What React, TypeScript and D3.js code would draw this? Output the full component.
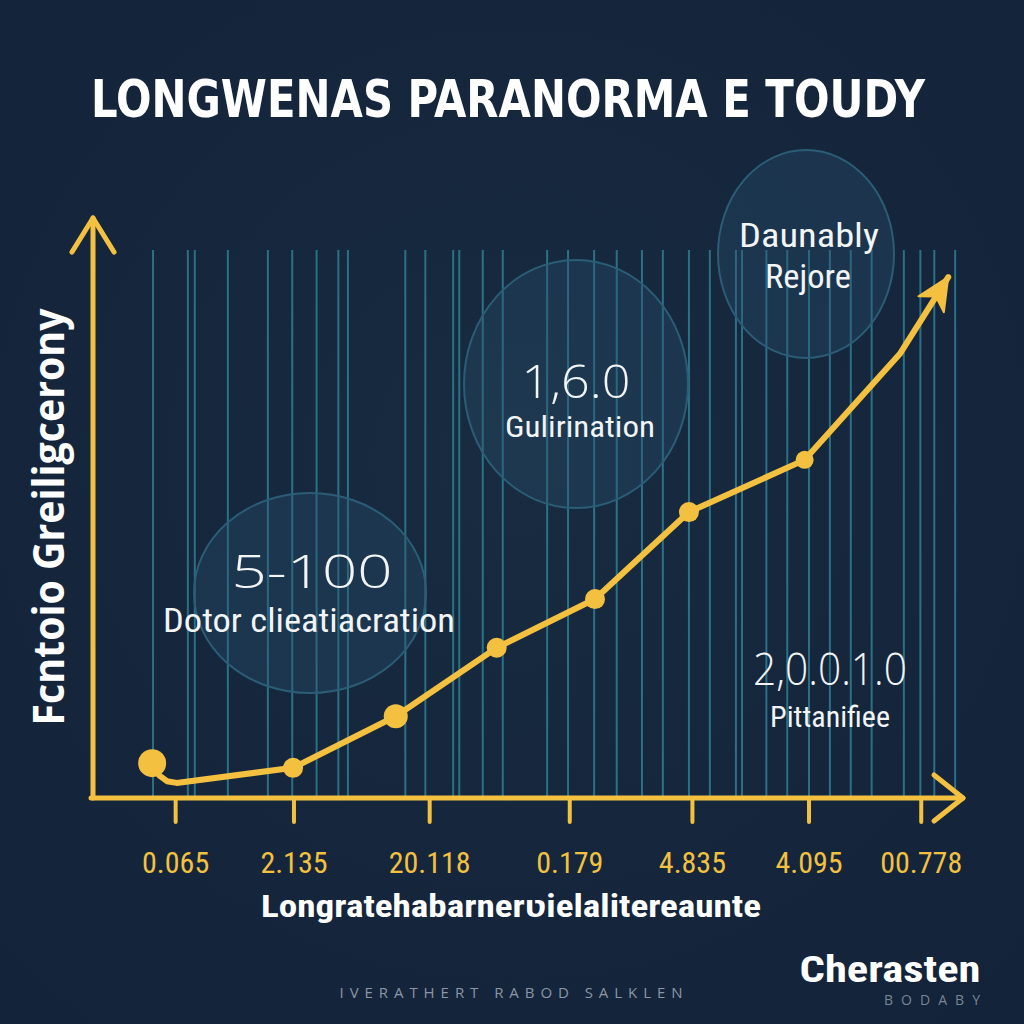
import React from 'react';
import * as d3 from 'd3';

const TITLE = 'LONGWENAS PARANORMA E TOUDY';
const Y_LABEL = 'Fcntoio Greiligcerony';
const X_LABEL = 'Longratehabarnerʋielalitereaunte';
const FOOTER = 'IVERATHERT RABOD SALKLEN';
const BRAND = 'Cherasten';
const BRAND_SUB = 'BODABY';

// x-axis ticks (data units) and their labels
const tickPositions = [9.5, 23.1, 38.7, 54.8, 68.9, 82.3, 95.2];
const tickLabels = ['0.065', '2.135', '20.118', '0.179', '4.835', '4.095', '00.778'];

// series (data units); marker indices show which points carry dots
const seriesX = [6.8, 7.6, 8.5, 9.6, 23.0, 34.8, 46.4, 57.7, 68.5, 81.8, 92.8];
const seriesY = [6.0, 3.9, 2.9, 2.6, 5.2, 14.1, 25.9, 34.3, 49.3, 58.3, 76.7];
const markerIdx = [0, 4, 5, 6, 7, 8, 9];
const arrowTipX = 98.3;
const arrowTipY = 89.8;

// vertical grid lines (data units)
const gridX = [
  6.9, 10.9, 11.7, 15.5, 20.1, 22.9, 25.7, 28.2, 29.3, 35.9, 38.2, 41.4, 42.1, 44.8, 47.1,
  52.2, 54.6, 57.6, 60.2, 63.1, 65.5, 68.5, 70.9, 73.9, 74.6, 77.4, 79.8, 82.3, 84.7, 87.1,
  89.5, 93.2, 95.1, 96.7, 99.1,
];
const gridTop = 94.5;

// annotation texts
const annValues = ['5-100', '1,6.0', 'Daunably', '2,0.0.1.0'];
const annLabels = ['Dotor clieatiacration', 'Gulirination', 'Rejore', 'Pittanifiee'];

// styles / layout
const DOT_R = [14, 10, 12, 10, 10, 10, 9];
const YELLOW = '#f3c13f';
const GRID = '#2d7a8e';
const NARROW = '"Liberation Sans Narrow", "Roboto Condensed", Roboto, "Liberation Sans", sans-serif';
const ROUND = '"Open Sans", "Noto Sans", Roboto, sans-serif';

export default function App() {
  const W = 1024;
  const H = 1024;
  const x = d3.scaleLinear().domain([0, 100]).range([93, 963]);
  const y = d3.scaleLinear().domain([0, 100]).range([798, 218]);

  const pts: [number, number][] = seriesX.map((v, i) => [x(v), y(seriesY[i])]);
  const line = d3.line().curve(d3.curveLinear);
  const tip: [number, number] = [x(arrowTipX), y(arrowTipY)];
  const last = pts[pts.length - 1];
  const linePath = line([...pts, tip]) as string;

  // arrowhead geometry
  const dx = tip[0] - last[0];
  const dy = tip[1] - last[1];
  const len = Math.hypot(dx, dy);
  const ux = dx / len;
  const uy = dy / len;
  const px = -uy;
  const py = ux;
  const back = 32;
  const half = 15;
  const bx = tip[0] - ux * back;
  const by = tip[1] - uy * back;
  const notchX = tip[0] - ux * (back - 9);
  const notchY = tip[1] - uy * (back - 9);
  const arrowHead = `M${tip[0]},${tip[1]} L${bx + px * half},${by + py * half} L${notchX},${notchY} L${bx - px * half},${by - py * half} Z`;

  const axisY0 = y(0);
  const axisX0 = x(0);

  return (
    <svg
      width={W}
      height={H}
      viewBox={`0 0 ${W} ${H}`}
      style={{ position: 'absolute', left: 0, top: 0, display: 'block' }}
    >
      <defs>
        <radialGradient id="bg" cx="50%" cy="45%" r="70%">
          <stop offset="0%" stopColor="#182b40" />
          <stop offset="100%" stopColor="#13233a" />
        </radialGradient>
      </defs>
      <rect x={0} y={0} width={W} height={H} fill="url(#bg)" />

      {/* title */}
      <text
        x={508}
        y={117}
        textAnchor="middle"
        fill="#ffffff"
        fontFamily='"DejaVu Sans Condensed", "DejaVu Sans", Lato, sans-serif'
        fontWeight={700}
        fontSize={52}
        textLength={834}
        lengthAdjust="spacingAndGlyphs"
      >
        {TITLE}
      </text>

      {/* grid lines */}
      {gridX.map((g, i) => (
        <line
          key={i}
          x1={x(g)}
          x2={x(g)}
          y1={y(gridTop)}
          y2={axisY0}
          stroke={GRID}
          strokeWidth={2}
          opacity={0.9}
        />
      ))}

      {/* annotation bubbles */}
      <ellipse cx={310} cy={593} rx={116} ry={100} fill="rgba(45,85,115,0.32)" stroke="#2b5d76" strokeWidth={2} />
      <ellipse cx={576} cy={384} rx={112} ry={124} fill="rgba(45,85,115,0.32)" stroke="#2b5d76" strokeWidth={2} />
      <ellipse cx={806} cy={254} rx={88} ry={104} fill="rgba(45,85,115,0.32)" stroke="#2b5d76" strokeWidth={2} />

      {/* annotation texts */}
      <g fill="#f2f4f6">
        <text x={312} y={588} textAnchor="middle" fontFamily={ROUND} fontWeight={300} fontSize={46} textLength={161} lengthAdjust="spacingAndGlyphs">{annValues[0]}</text>
        <text x={309} y={632} textAnchor="middle" fontFamily={NARROW} fontSize={34} textLength={292} lengthAdjust="spacingAndGlyphs">{annLabels[0]}</text>
        <text x={576} y={398} textAnchor="middle" fontFamily={ROUND} fontWeight={300} fontSize={46} textLength={109} lengthAdjust="spacingAndGlyphs">{annValues[1]}</text>
        <text x={580} y={437} textAnchor="middle" fontFamily={NARROW} fontSize={30} textLength={150} lengthAdjust="spacingAndGlyphs">{annLabels[1]}</text>
        <text x={809} y={247} textAnchor="middle" fontFamily={NARROW} fontSize={33} textLength={140} lengthAdjust="spacingAndGlyphs">{annValues[2]}</text>
        <text x={808} y={288} textAnchor="middle" fontFamily={NARROW} fontSize={33} textLength={86} lengthAdjust="spacingAndGlyphs">{annLabels[2]}</text>
        <text x={830} y={685} textAnchor="middle" fontFamily={ROUND} fontWeight={300} fontSize={44} textLength={154} lengthAdjust="spacingAndGlyphs">{annValues[3]}</text>
        <text x={830} y={727} textAnchor="middle" fontFamily={NARROW} fontSize={30} textLength={120} lengthAdjust="spacingAndGlyphs">{annLabels[3]}</text>
      </g>

      {/* axes */}
      <g stroke={YELLOW} strokeWidth={5} strokeLinecap="round" strokeLinejoin="round" fill="none">
        <line x1={axisX0} y1={axisY0} x2={axisX0} y2={y(100)} />
        <polyline points={`${axisX0 - 21},${y(100) + 34} ${axisX0},${y(100)} ${axisX0 + 21},${y(100) + 34}`} />
        <line x1={axisX0 - 2} y1={axisY0} x2={x(100)} y2={axisY0} />
        <polyline points={`${x(100) - 29},${axisY0 - 23} ${x(100)},${axisY0} ${x(100) - 29},${axisY0 + 23}`} />
        {tickPositions.map((t, i) => (
          <line key={i} x1={x(t)} x2={x(t)} y1={axisY0} y2={axisY0 + 24} strokeWidth={4} />
        ))}
      </g>

      {/* tick labels */}
      {tickLabels.map((lab, i) => (
        <text
          key={i}
          x={x(tickPositions[i])}
          y={873}
          textAnchor="middle"
          fill={YELLOW}
          fontFamily={NARROW}
          fontSize={30}
        >
          {lab}
        </text>
      ))}

      {/* series */}
      <path d={linePath} fill="none" stroke={YELLOW} strokeWidth={6} strokeLinejoin="round" strokeLinecap="round" />
      <path d={arrowHead} fill={YELLOW} stroke={YELLOW} strokeWidth={2} strokeLinejoin="round" />
      {markerIdx.map((idx, i) => (
        <circle key={i} cx={pts[idx][0]} cy={pts[idx][1]} r={DOT_R[i]} fill={YELLOW} />
      ))}

      {/* axis labels */}
      <text
        transform="translate(64,517) rotate(-90)"
        textAnchor="middle"
        fill="#ffffff"
        fontFamily='"Open Sans", Lato, "DejaVu Sans", sans-serif'
        fontWeight={700}
        fontSize={43}
        textLength={417}
        lengthAdjust="spacingAndGlyphs"
      >
        {Y_LABEL}
      </text>
      <text
        x={511}
        y={917}
        textAnchor="middle"
        fill="#ffffff"
        fontFamily={NARROW}
        fontWeight={700}
        fontSize={32}
        textLength={500}
        lengthAdjust="spacingAndGlyphs"
      >
        {X_LABEL}
      </text>

      {/* footer */}
      <text
        x={511}
        y={998}
        textAnchor="middle"
        fill="#8b96a6"
        fontFamily={ROUND}
        fontSize={15}
        textLength={343}
        lengthAdjust="spacing"
      >
        {FOOTER}
      </text>
      <text
        x={890}
        y={982}
        textAnchor="middle"
        fill="#ffffff"
        fontFamily={NARROW}
        fontWeight={700}
        fontSize={36}
        textLength={181}
        lengthAdjust="spacingAndGlyphs"
      >
        {BRAND}
      </text>
      <text
        x={932}
        y={1005}
        textAnchor="middle"
        fill="#7a8595"
        fontFamily={ROUND}
        fontSize={14}
        textLength={96}
        lengthAdjust="spacing"
      >
        {BRAND_SUB}
      </text>
    </svg>
  );
}
